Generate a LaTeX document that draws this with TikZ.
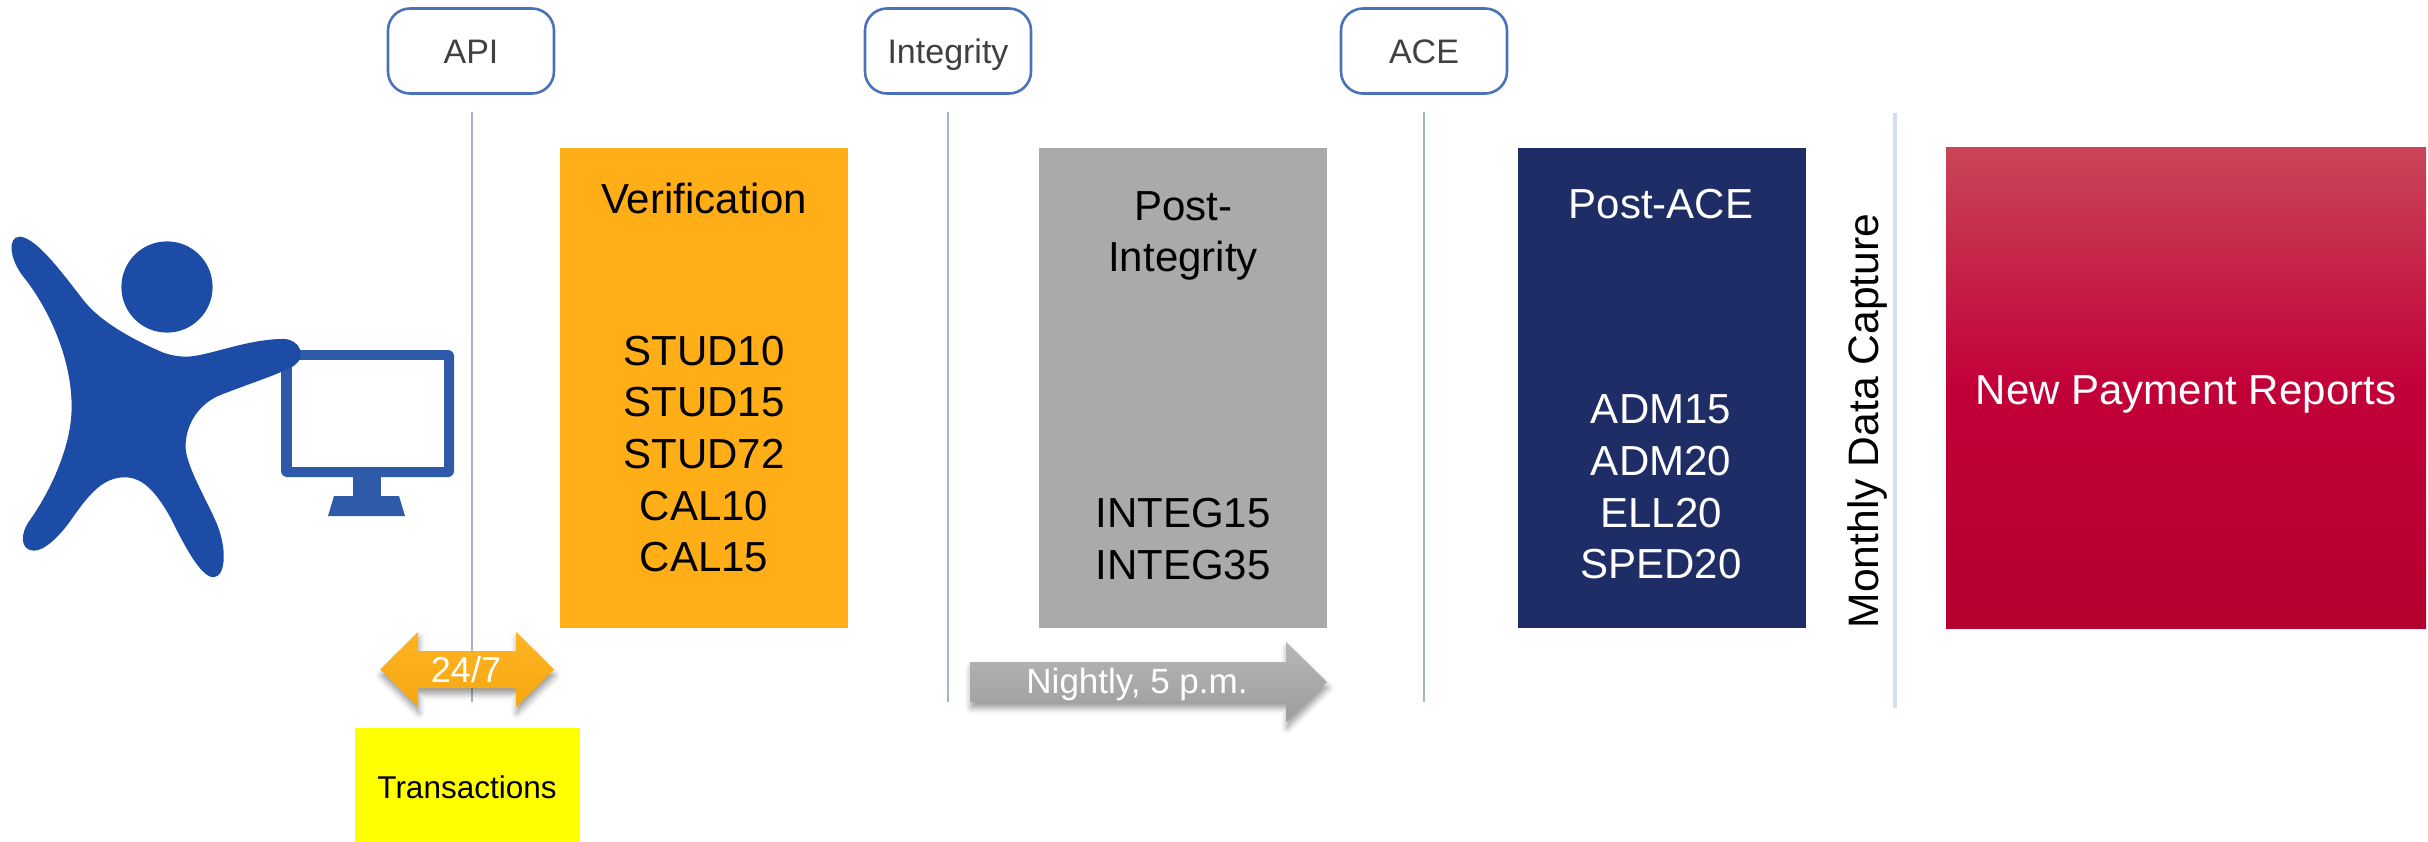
\documentclass[tikz,border=0pt]{standalone}
\usepackage{fontspec}
\setmainfont{Liberation Sans}
\usetikzlibrary{shadows.blur}
\definecolor{orangebox}{HTML}{FFAE17}
\definecolor{orangetop}{HTML}{FFB324}
\definecolor{orangebot}{HTML}{F5A80F}
\definecolor{graybox}{HTML}{ABAAA8}
\definecolor{navybox}{HTML}{1F2D66}
\definecolor{personblue}{HTML}{1C4CA5}
\definecolor{monitorblue}{HTML}{2F5AAA}
\definecolor{rulecolor}{HTML}{A3B4CF}
\definecolor{lightrule}{HTML}{D5DFEA}
\definecolor{tabborder}{HTML}{4A72B8}
\definecolor{redtop}{HTML}{C94558}
\definecolor{redmid}{HTML}{C20038}
\definecolor{redbot}{HTML}{B5002E}
\definecolor{yellowbox}{RGB}{255,255,0}
\newcommand{\fs}[1]{\fontsize{#1}{#1}\selectfont}
\tikzset{
  x=1pt,y=-1pt,
  tabbox/.style={draw=tabborder,line width=2.6pt,fill=white,rounded corners=22pt,minimum width=166pt,minimum height=85pt,inner sep=0pt,text=black!75,font=\fs{34},text height=30pt,text depth=4pt},
  thinrule/.style={draw=rulecolor,line width=1.6pt},
  colbox/.style={inner sep=0pt,minimum width=288pt,minimum height=480pt},
  bigtext/.style={inner sep=0pt,align=center,font=\fontsize{42}{51.6}\selectfont},
  softshadow/.style={blur shadow={shadow xshift=1pt,shadow yshift=-6pt,shadow blur radius=6pt,shadow opacity=40}},
}
\begin{document}
\begin{tikzpicture}
\useasboundingbox (0,0) rectangle (2428,842);
% header tabs
\node[tabbox] (api) at (471,51) {API};
\node[tabbox] (integ) at (948,51) {Integrity};
\node[tabbox] (ace) at (1424,51) {ACE};
% vertical rules
\coordinate (r1a) at (472,112); \coordinate (r1b) at (472,702);
\coordinate (r2a) at (948,112); \coordinate (r2b) at (948,702);
\coordinate (r3a) at (1424,112); \coordinate (r3b) at (1424,702);
\coordinate (r4a) at (1895,113); \coordinate (r4b) at (1895,708);
\draw[thinrule] (r1a) -- (r1b);
\draw[thinrule] (r2a) -- (r2b);
\draw[thinrule] (r3a) -- (r3b);
\draw[draw=lightrule,line width=4pt] (r4a) -- (r4b);
% columns
\node[colbox,fill=orangebox] (verif) at (704,388) {};
\node[colbox,fill=graybox] (post) at (1183,388) {};
\node[colbox,fill=navybox] (postace) at (1662,388) {};
\node[colbox,minimum width=480pt,top color=redtop,bottom color=redbot,middle color=redmid] (newpay) at (2186,388) {};
\node[bigtext] (t1) at (704,198) {Verification};
\node[bigtext] (t2) at (704,454) {STUD10\\STUD15\\STUD72\\CAL10\\CAL15};
\node[bigtext] (t3) at (1183,236) {Post-\\Integrity};
\node[bigtext] (t4) at (1183,539) {INTEG15\\INTEG35};
\node[bigtext,text=white] (t5) at (1661,204) {Post-ACE};
\node[bigtext,text=white] (t6) at (1661,487) {ADM15\\ADM20\\ELL20\\SPED20};
\node[bigtext,text=white] (t7) at (2186,394) {New Payment Reports};
\node[inner sep=0pt,rotate=90,font=\fs{42.6}] (t8) at (1867,421) {Monthly Data Capture};
% double arrow
\path[softshadow,top color=orangetop,bottom color=orangebot]
  (380,669.5) -- (418,632) -- (418,651) -- (516,651) -- (516,632) -- (554,669.5)
  -- (516,707) -- (516,688) -- (418,688) -- (418,707) -- cycle;
\node[inner sep=0pt,text=white,font=\fs{36}] (t9) at (466,670) {24/7};
% nightly arrow
\path[softshadow,top color=graybox!85!white,bottom color=graybox!92!black]
  (970,662) -- (1286,662) -- (1286,642) -- (1327,682) -- (1286,722) -- (1286,702) -- (970,702) -- cycle;
\node[inner sep=0pt,text=white,font=\fs{35}] (t10) at (1137,684) {Nightly, 5 p.m.};
% transactions
\node[fill=yellowbox,inner sep=0pt,minimum width=225pt,minimum height=114pt] (trans) at (467,785) {};
\node[inner sep=0pt,font=\fs{31.5}] (t11) at (467,787) {Transactions};
% monitor
\fill[monitorblue,rounded corners=6pt] (281,350) rectangle (454,477);
\fill[white] (292,360) rectangle (444,467);
\fill[monitorblue] (353,477) rectangle (381,496);
\fill[monitorblue] (334,496) -- (399,496) -- (405,516) -- (328,516) -- cycle;
% person
\fill[personblue] (167,287) circle (45.6);
\begin{scope}[x=0.3333pt,y=-0.3333pt,yshift=-200pt]
\fill[personblue] (60,110)
 .. controls (110,115) and (180,210) .. (250,300)
 .. controls (300,365) and (400,420) .. (490,458)
 .. controls (520,468) and (540,470) .. (560,470)
 .. controls (620,470) and (740,417) .. (850,417)
 .. controls (900,417) and (920,470) .. (885,495)
 .. controls (850,520) and (720,560) .. (650,590)
 .. controls (590,620) and (555,680) .. (557,745)
 .. controls (560,800) and (620,900) .. (650,970)
 .. controls (680,1040) and (680,1130) .. (640,1132)
 .. controls (600,1130) and (550,1030) .. (510,950)
 .. controls (470,880) and (430,832) .. (375,832)
 .. controls (310,832) and (270,880) .. (220,950)
 .. controls (180,1010) and (130,1055) .. (100,1052)
 .. controls (60,1050) and (60,1000) .. (90,960)
 .. controls (140,890) and (215,750) .. (215,620)
 .. controls (215,480) and (150,330) .. (70,230)
 .. controls (30,180) and (20,110) .. (60,110) -- cycle;
\end{scope}
\end{tikzpicture}
\end{document}
